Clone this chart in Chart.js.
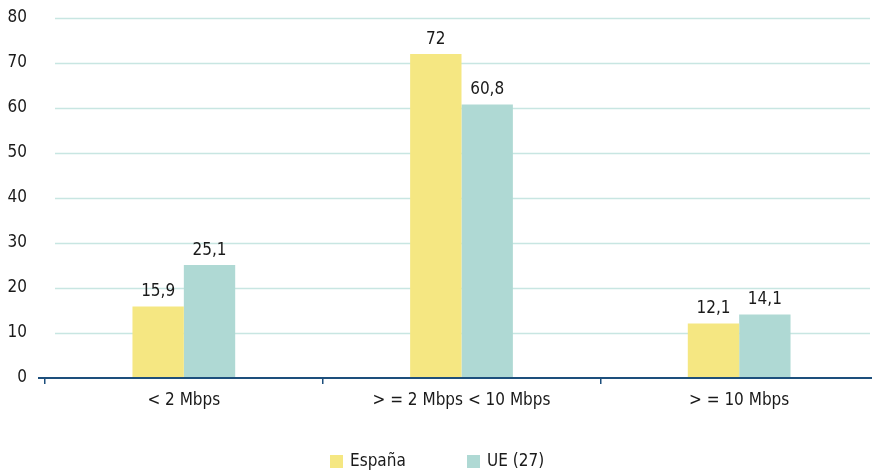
<!DOCTYPE html>
<html>
<head>
<meta charset="utf-8">
<script src="https://cdn.jsdelivr.net/npm/chart.js@4"></script>
<style>
  html, body { margin: 0; padding: 0; background: #fff; overflow: hidden; }
  #wrap { width: 880px; height: 471px; }
</style>
</head>
<body>
<div id="wrap"><canvas id="myChart"></canvas></div>
<script>
const categories = ["< 2 Mbps", "> = 2 Mbps < 10 Mbps", "> = 10 Mbps"];
const espana = [15.9, 72, 12.1];
const ue27 = [25.1, 60.8, 14.1];
const seriesNames = ["España", "UE (27)"];
const yTicks = [0, 10, 20, 30, 40, 50, 60, 70, 80];

const FONT = "'Liberation Sans Narrow', 'DejaVu Sans Condensed', sans-serif";
const FSIZE = 17;
const NAVY = "#1d4f7c";
const GRID = "#c8e6e2";
const TEXT = "#1a1a1a";

// grid lines start a bit right of the axis, zero line a bit left
const gridPlugin = {
  id: "gridLines",
  beforeDatasetsDraw(chart) {
    const ctx = chart.ctx;
    const y = chart.scales.y;
    const area = chart.chartArea;
    ctx.save();
    ctx.strokeStyle = GRID;
    ctx.lineWidth = 1.5;
    yTicks.forEach((v) => {
      if (v === 0) return;
      const py = Math.round(y.getPixelForValue(v)) + 0.5;
      ctx.beginPath();
      ctx.moveTo(area.left + 10, py);
      ctx.lineTo(area.right - 8, py);
      ctx.stroke();
    });
    ctx.restore();
  },
  afterDatasetsDraw(chart) {
    const ctx = chart.ctx;
    const y = chart.scales.y;
    const area = chart.chartArea;
    const py = y.getPixelForValue(0);
    ctx.save();
    ctx.strokeStyle = NAVY;
    ctx.lineWidth = 2;
    ctx.beginPath();
    ctx.moveTo(area.left - 7, py);
    ctx.lineTo(area.right, py);
    ctx.stroke();
    // value labels
    ctx.fillStyle = TEXT;
    ctx.font = FSIZE + "px " + FONT;
    ctx.textAlign = "center";
    ctx.textBaseline = "bottom";
    chart.data.datasets.forEach((ds, i) => {
      chart.getDatasetMeta(i).data.forEach((bar, j) => {
        const txt = String(ds.data[j]).replace(".", ",");
        ctx.fillText(txt, bar.x, bar.y - 6);
      });
    });
    ctx.restore();
  },
  afterDraw(chart) {
    // legend at the bottom
    const ctx = chart.ctx;
    const xs = [330, 467];
    const ly = 461;
    ctx.save();
    ctx.font = FSIZE + "px " + FONT;
    ctx.textBaseline = "middle";
    ctx.textAlign = "left";
    chart.data.datasets.forEach((ds, i) => {
      ctx.fillStyle = ds.backgroundColor;
      ctx.fillRect(xs[i], ly - 6, 13, 13);
      ctx.fillStyle = TEXT;
      ctx.fillText(ds.label, xs[i] + 20, ly + 1);
    });
    ctx.restore();
  },
};

new Chart(document.getElementById("myChart"), {
  type: "bar",
  data: {
    labels: categories,
    datasets: [
      { label: seriesNames[0], data: espana, backgroundColor: "#f5e782" },
      { label: seriesNames[1], data: ue27, backgroundColor: "#afd9d4" },
    ],
  },
  options: {
    responsive: true,
    maintainAspectRatio: false,
    animation: false,
    layout: { padding: { top: 18, right: 2, left: 0, bottom: 0 } },
    categoryPercentage: 0.37,
    barPercentage: 1,
    plugins: {
      tooltip: { enabled: false },
      legend: { display: false },
    },
    scales: {
      x: {
        afterFit: (s) => { s.height = 93; },
        grid: {
          display: true,
          drawOnChartArea: false,
          drawTicks: true,
          tickLength: 6,
          color: NAVY,
          lineWidth: 1.5,
        },
        border: { display: false },
        ticks: {
          font: { family: FONT, size: FSIZE },
          color: TEXT,
          padding: 6,
          maxRotation: 0,
        },
      },
      y: {
        min: 0,
        max: 80,
        afterFit: (s) => { s.width = 45; s.paddingTop = 0; s.paddingBottom = 0; },
        afterBuildTicks: (s) => { s.ticks = yTicks.map((v) => ({ value: v })); },
        grid: { display: false, drawTicks: false },
        border: { display: false },
        ticks: {
          font: { family: FONT, size: FSIZE },
          color: TEXT,
          padding: 18,
        },
      },
    },
  },
  plugins: [gridPlugin],
});
</script>
</body>
</html>
